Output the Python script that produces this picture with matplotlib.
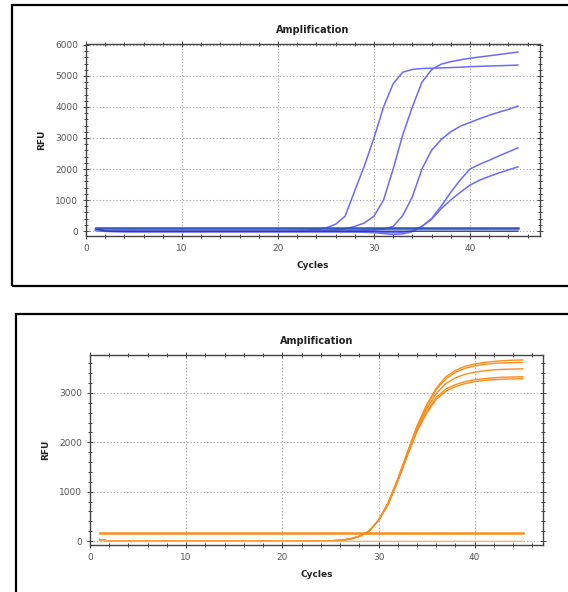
import matplotlib
matplotlib.use("Agg")
import matplotlib.pyplot as plt
from matplotlib.patches import Rectangle
from matplotlib.ticker import MultipleLocator

# cycle numbers
cycles = list(range(1, 46))

# top panel, blue amplification curves (RFU per cycle)
blue_a = [60, 10, 5, 0, 0, -5, -5, -5, -5, -5,
          -5, -5, -5, -5, -5, -5, -5, -5, -5, -5,
          0, 5, 20, 50, 100, 220, 480, 1300, 2100, 3000,
          4000, 4750, 5120, 5210, 5240, 5250, 5260, 5270, 5280, 5300,
          5310, 5320, 5330, 5340, 5350]
blue_b = [40, 0, -5, -10, -10, -10, -10, -10, -10, -10,
          -10, -10, -10, -10, -10, -10, -10, -10, -10, -10,
          -10, -10, -5, 0, 10, 30, 70, 150, 260, 480,
          1000, 2000, 3100, 4000, 4800, 5200, 5380, 5460, 5520, 5570,
          5610, 5650, 5690, 5730, 5770]
blue_c = [30, 0, -5, -10, -15, -15, -15, -15, -15, -15,
          -15, -15, -15, -15, -15, -15, -15, -15, -15, -15,
          -15, -15, -15, -15, -10, -5, 0, 10, 20, 35,
          60, 150, 500, 1100, 2000, 2600, 2950, 3200, 3380, 3500,
          3620, 3730, 3830, 3920, 4030]
blue_d = [20, -10, -15, -20, -20, -20, -20, -20, -20, -20,
          -20, -20, -20, -20, -20, -20, -20, -20, -20, -20,
          -20, -20, -20, -20, -25, -25, -30, -30, -40, -50,
          -80, -110, -90, -20, 150, 400, 800, 1250, 1650, 2000,
          2150, 2280, 2420, 2550, 2680]
blue_e = [20, -10, -15, -20, -20, -20, -20, -20, -20, -20,
          -20, -20, -20, -20, -20, -20, -20, -20, -20, -20,
          -20, -20, -20, -20, -20, -20, -20, -20, -25, -30,
          -40, -50, -40, 0, 150, 380, 720, 1000, 1250, 1480,
          1640, 1760, 1870, 1970, 2070]
blue_ntc = [80, 0, -5, -5, -5, -5, -5, -5, -5, -5,
            -5, -5, -5, -5, -5, -5, -5, -5, -5, -5,
            -5, -5, -5, -5, -5, -5, -5, -5, -5, -5,
            -5, -5, -5, -5, -5, -5, -5, -5, -5, -5,
            -5, -5, -5, -5, -5]
blue_threshold = 110

# bottom panel, orange curves: shared early cycles 1-30, then per-well 31-45
orange_early = [30, 0, -5, -5, -5, -5, -5, -5, -5, -5,
                -5, -5, -5, -5, -5, -5, -5, -5, -5, -5,
                -5, -5, -5, 0, 5, 15, 40, 95, 200, 420]
orange_1 = [780, 1260, 1800, 2330, 2760, 3100, 3330, 3460, 3540, 3590, 3620, 3640, 3655, 3665, 3670]
orange_2 = [770, 1250, 1790, 2310, 2730, 3070, 3290, 3420, 3500, 3550, 3580, 3600, 3610, 3615, 3620]
orange_3 = [760, 1240, 1770, 2280, 2680, 2990, 3190, 3310, 3380, 3420, 3450, 3470, 3480, 3485, 3490]
orange_4 = [750, 1220, 1750, 2240, 2620, 2910, 3080, 3170, 3230, 3270, 3290, 3310, 3320, 3325, 3330]
orange_5 = [740, 1210, 1730, 2220, 2590, 2870, 3040, 3130, 3190, 3230, 3255, 3270, 3280, 3285, 3290]
orange_ntc = [10, 0, -5, -5, -5, -5, -5, -5, -5, -5,
              -5, -5, -5, -5, -5, -5, -5, -5, -5, -5,
              -5, -5, -5, -5, -5, -5, -5, -5, -5, -5,
              -5, -5, -5, -5, -5, -5, -5, -5, -5, -5,
              -5, -5, -5, -5, -5]
orange_threshold = 165

fig = plt.figure(figsize=(5.68, 5.92), dpi=100)
W, H = 568, 592

# black frames around each panel (they run off the right / bottom edge)
fig.patches.append(Rectangle((12 / W, 1 - 286 / H), 1.0, 281 / H, transform=fig.transFigure,
                             fill=False, edgecolor="black", linewidth=1.6, clip_on=False))
fig.patches.append(Rectangle((16 / W, -0.1), 1.0, 0.1 + 1 - 314 / H, transform=fig.transFigure,
                             fill=False, edgecolor="black", linewidth=1.6, clip_on=False))


def style_axes(ax, xlim, ylim, ymajor):
    ax.set_xlim(*xlim)
    ax.set_ylim(*ylim)
    ax.xaxis.set_major_locator(MultipleLocator(10))
    ax.xaxis.set_minor_locator(MultipleLocator(2))
    ax.yaxis.set_major_locator(MultipleLocator(ymajor))
    ax.yaxis.set_minor_locator(MultipleLocator(200))
    ax.grid(True, which="major", color="#a0a0a0", linestyle=(0, (1, 2)), linewidth=0.8)
    ax.tick_params(which="both", direction="inout", top=True, right=True,
                   colors="#444444", labelsize=6.5, labelcolor="#555555", width=0.7)
    ax.tick_params(which="major", length=4)
    ax.tick_params(which="minor", length=3)
    for sp in ax.spines.values():
        sp.set_color("#444444")
        sp.set_linewidth(1.0)
    ax.set_title("Amplification", fontsize=7, fontweight="bold", pad=8, color="#222222")
    ax.set_xlabel("Cycles", fontsize=6.5, fontweight="bold", color="#222222")
    ax.set_ylabel("RFU", fontsize=6.5, fontweight="bold", color="#222222")


# top panel
ax1 = fig.add_axes([86 / W, 1 - 236 / H, 454 / W, 192 / H])
for ys in [blue_a, blue_b, blue_c, blue_d, blue_e]:
    ax1.plot(cycles, ys, color="#6a6aff", linewidth=1.1)
ax1.plot(cycles, blue_ntc, color="#2a3a9a", linewidth=1.0)
ax1.plot([cycles[0], cycles[-1]], [blue_threshold, blue_threshold], color="#2f55b5", linewidth=1.8)
style_axes(ax1, (0, 47.3), (-160, 6030), 1000)
ax1.xaxis.set_label_coords(0.5, -0.13)
ax1.yaxis.set_label_coords(-0.088, 0.5)

# bottom panel
ax2 = fig.add_axes([90 / W, 1 - 545 / H, 453 / W, 190 / H])
for late in [orange_1, orange_2, orange_3, orange_4, orange_5]:
    ax2.plot(cycles, orange_early + late, color="#ff8c1a", linewidth=1.0)
ax2.plot(cycles, orange_ntc, color="#ffb060", linewidth=0.9)
ax2.plot([cycles[0], cycles[-1]], [orange_threshold, orange_threshold], color="#ff8c1a", linewidth=1.8)
style_axes(ax2, (0, 47.1), (-80, 3770), 1000)
ax2.xaxis.set_label_coords(0.5, -0.13)
ax2.yaxis.set_label_coords(-0.088, 0.5)

fig.savefig("out.png", dpi=100)
